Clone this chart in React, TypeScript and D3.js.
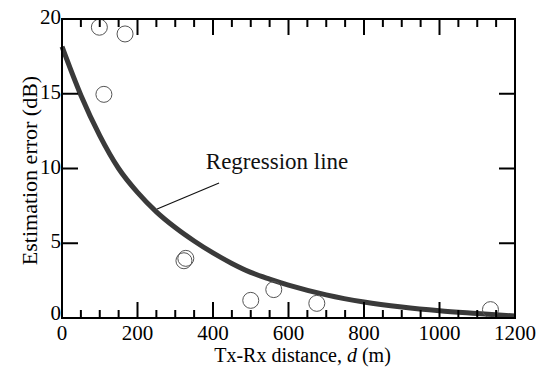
import React from "react";
import * as d3 from "d3";

const pointDist = [99, 167, 111, 323, 328, 500, 561, 675, 1135];
const pointErr = [19.45, 19.0, 14.96, 3.83, 3.99, 1.18, 1.9, 0.98, 0.56];

const curveDist = [0, 50, 100, 150, 200, 250, 300, 350, 400, 450, 500, 550, 600, 700, 800, 900, 1000, 1100, 1200];
const curveErr = [18.15, 14.9, 12.2, 10.0, 8.4, 7.1, 6.05, 5.15, 4.35, 3.65, 3.05, 2.6, 2.2, 1.55, 1.07, 0.73, 0.48, 0.3, 0.13];

const xTickValues = [0, 200, 400, 600, 800, 1000, 1200];
const yTickValues = [0, 5, 10, 15, 20];
const xMinorTicks = d3.range(0, 1201, 50);

const annotationText = "Regression line";
const leaderFrom = [252, 7.29];
const leaderTo = [416, 9.03];
const labelAt = [381, 9.97];

const W = 545, H = 368;
const M = { left: 62, right: 30, top: 19, bottom: 50 };
const FONT = "'Liberation Serif', 'Times New Roman', serif";

export default function App() {
  const x = d3.scaleLinear().domain([0, 1200]).range([M.left, W - M.right]);
  const y = d3.scaleLinear().domain([0, 20]).range([H - M.bottom, M.top]);
  const line = d3
    .line<number>()
    .x((_, i) => x(curveDist[i]))
    .y((_, i) => y(curveErr[i]))
    .curve(d3.curveMonotoneX);
  const x0 = x(0), x1 = x(1200), y0 = y(0), y1 = y(20);
  const major = 16, minor = 8;
  return (
    <svg width={W} height={H} style={{ position: "absolute", left: 0, top: 0, background: "#fff" }}>
      <rect x={0} y={0} width={W} height={H} fill="#fff" />
      {/* regression curve */}
      <path d={line(curveErr) || ""} fill="none" stroke="#3a3a3a" strokeWidth={5} />
      {/* leader line */}
      <line x1={x(leaderFrom[0])} y1={y(leaderFrom[1])} x2={x(leaderTo[0])} y2={y(leaderTo[1])} stroke="#111" strokeWidth={1.2} />
      <text x={x(labelAt[0])} y={y(labelAt[1])} fontFamily={FONT} fontSize={23} fill="#111">{annotationText}</text>
      {/* points */}
      {pointDist.map((d, i) => (
        <circle key={i} cx={x(d)} cy={y(pointErr[i])} r={8} fill="none" stroke="#555" strokeWidth={1} />
      ))}
      {/* frame */}
      <rect x={x0} y={y1} width={x1 - x0} height={y0 - y1} fill="none" stroke="#000" strokeWidth={2} />
      {/* x ticks */}
      {xMinorTicks.map((d) => {
        const len = d % 200 === 0 ? major : minor;
        if (d === 0 || d === 1200) return null;
        return (
          <g key={d}>
            <line x1={x(d)} x2={x(d)} y1={y0} y2={y0 - len} stroke="#000" strokeWidth={2} />
            <line x1={x(d)} x2={x(d)} y1={y1} y2={y1 + len} stroke="#000" strokeWidth={2} />
          </g>
        );
      })}
      {yTickValues.map((v) => (
        v === 0 || v === 20 ? null : (
          <g key={v}>
            <line x1={x0} x2={x0 + major} y1={y(v)} y2={y(v)} stroke="#000" strokeWidth={2} />
            <line x1={x1} x2={x1 - major} y1={y(v)} y2={y(v)} stroke="#000" strokeWidth={2} />
          </g>
        )
      ))}
      {/* tick labels */}
      {xTickValues.map((v) => (
        <text key={v} x={x(v)} y={y0 + 22} textAnchor="middle" fontFamily={FONT} fontSize={21} fill="#000">{v}</text>
      ))}
      {yTickValues.map((v) => (
        <text key={v} x={x0 - 1} y={y(v) + (v === 0 ? 2 : 5)} textAnchor="end" fontFamily={FONT} fontSize={21} fill="#000">{v}</text>
      ))}
      {/* axis titles */}
      <text x={(x0 + x1) / 2 + 14} y={H - 6} textAnchor="middle" fontFamily={FONT} fontSize={20} fill="#000">
        Tx-Rx distance, <tspan fontStyle="italic">d</tspan> (m)
      </text>
      <text transform={`translate(37, ${(y0 + y1) / 2 + 2}) rotate(-90)`} textAnchor="middle" fontFamily={FONT} fontSize={22} fill="#000">
        Estimation error (dB)
      </text>
    </svg>
  );
}
